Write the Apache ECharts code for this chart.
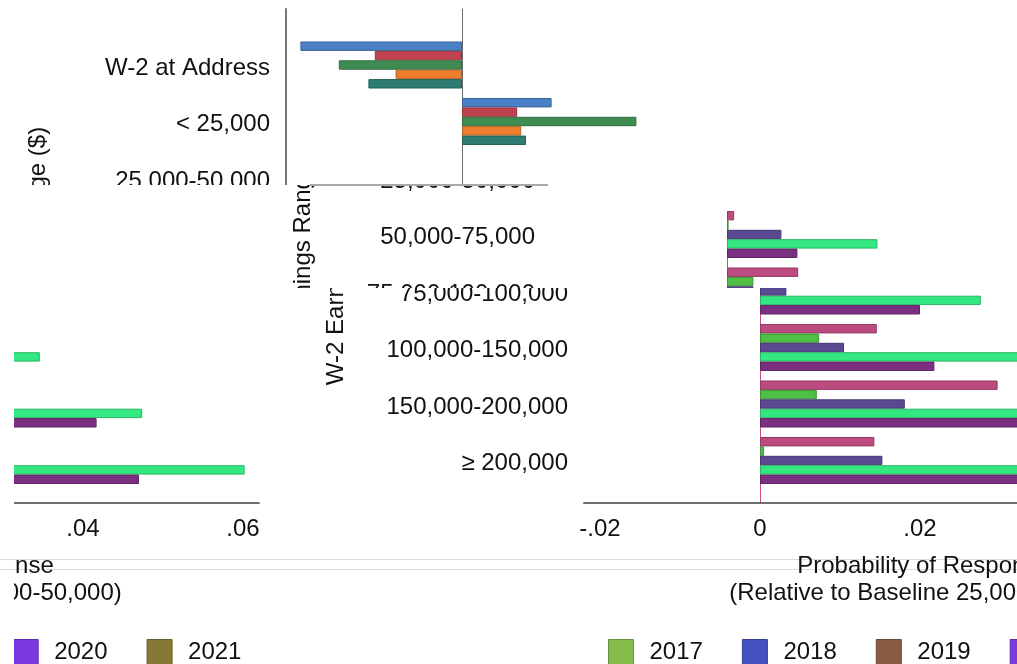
<!DOCTYPE html>
<html>
<head>
<meta charset="utf-8">
<script src="https://cdn.jsdelivr.net/npm/echarts@6/dist/echarts.min.js"></script>
<style>
  html, body { margin: 0; padding: 0; background: #fff; width: 1017px; height: 664px; overflow: hidden; position: relative; }
  .tile { position: absolute; overflow: hidden; z-index: 1; }
  .frame { position: absolute; width: 997px; height: 664px; }
  .rule { position: absolute; height: 1px; background: #dcdcdc; }
  .rule.front { z-index: 2; height: 2px; background: #a9a9a9; }
</style>
</head>
<body>
<div class="rule" style="left:0;top:559px;width:1017px"></div>
<div class="rule" style="left:0;top:569px;width:1017px"></div>
<div class="rule front" style="left:310px;top:184px;width:238px"></div>
<script>
// Earnings ranges (top to bottom) and survey years
const categories = ['W-2 at Address', '< 25,000', '25,000-50,000', '50,000-75,000',
  '75,000-100,000', '100,000-150,000', '150,000-200,000', '\u2265 200,000'];
const years = ['2017', '2018', '2019', '2020', '2021'];

// Probability of response relative to the 25,000-50,000 baseline
const v2017 = [-0.0202, 0.0112, null, 0.0009, 0.0089, 0.0146, 0.0297, 0.0143];
const v2018 = [-0.0109, 0.0069, null, 0.0002, 0.0033, 0.0074, 0.0071, 0.0005];
const v2019 = [-0.0154, 0.0218, null, 0.0068, 0.0033, 0.0105, 0.0181, 0.0153];
const v2020 = [-0.0083, 0.0074, null, 0.0188, 0.0276, 0.0346, 0.0474, 0.0602];
const v2021 = [-0.0117, 0.0080, null, 0.0088, 0.0200, 0.0218, 0.0417, 0.0470];
const seriesValues = [v2017, v2018, v2019, v2020, v2021];

// x-axis tick labels
const tickValues = [-0.02, 0, 0.02, 0.04, 0.06];
const xMin = -0.022, xMax = 0.062;

const FONT = '"Liberation Sans", Arial, Helvetica, sans-serif';
const warm = ['#4a80c4', '#c0414f', '#3f8c52', '#ee7e2c', '#2d7c72'];
const cool = ['#bc4b80', '#50bf45', '#5b4893', '#33e880', '#7b2f80'];
const legendColors = ['#84bb4b', '#4452c0', '#8b5a44', '#7b38e0', '#857a35'];

function darken(hex, f) {
  f = f || 0.78;
  const n = parseInt(hex.slice(1), 16);
  const r = Math.round(((n >> 16) & 255) * f), g = Math.round(((n >> 8) & 255) * f), b = Math.round((n & 255) * f);
  return 'rgb(' + r + ',' + g + ',' + b + ')';
}

function fmtTick(v) {
  if (Math.abs(v) < 1e-9) return '0';
  return (v < 0 ? '-' : '') + Math.abs(v).toFixed(2).replace(/^0/, '');
}

function buildOption(t) {
  const box = { left: 294, width: 672 };
  return {
    animation: false,
    textStyle: { fontFamily: FONT },
    grid: [
      Object.assign({ top: 36.75, height: 452 }, box),
      Object.assign({ top: 9, height: 494 }, box),
      Object.assign({ top: 9, height: 494 }, box)
    ],
    xAxis: [
      { gridIndex: 0, type: 'value', min: xMin, max: xMax, show: false },
      {
        gridIndex: 1, type: 'value', min: xMin, max: xMax,
        axisLine: { show: true, onZero: false, lineStyle: { color: '#707070', width: 2 } },
        axisTick: { show: false }, splitLine: { show: false },
        axisLabel: { customValues: tickValues, formatter: fmtTick, fontSize: 24, color: '#111', margin: 14, fontFamily: FONT },
        name: 'Probability of Response\n(Relative to Baseline 25,000-50,000)',
        nameLocation: 'middle', nameGap: 50,
        nameTextStyle: { fontSize: 24, color: '#111', lineHeight: 27, padding: [0, 0, 0, 8], fontFamily: FONT }
      },
      { gridIndex: 2, type: 'value', min: xMin, max: xMax, show: false }
    ],
    yAxis: [
      {
        gridIndex: 0, type: 'category', data: categories, inverse: true,
        axisLine: { show: false }, axisTick: { show: false },
        axisLabel: { fontSize: 24, color: '#111', margin: 16, verticalAlign: 'top', lineHeight: 6, fontFamily: FONT }
      },
      {
        gridIndex: 1, type: 'value', min: 0, max: 1,
        axisLine: { show: t.yLine, onZero: false, lineStyle: { color: '#777', width: 2 } },
        axisTick: { show: false }, axisLabel: { show: false }, splitLine: { show: false },
        name: 'W-2 Earnings Range ($)', nameLocation: 'middle', nameGap: 236,
        nameTextStyle: { fontSize: 24, color: '#111', fontFamily: FONT }
      },
      {
        gridIndex: 2, type: 'value', min: 0, max: 1,
        axisLine: { show: t.zeroLine, onZero: true, lineStyle: { color: t.zeroColor || '#666', width: 1 } },
        axisTick: { show: false }, axisLabel: { show: false }, splitLine: { show: false }
      }
    ],
    legend: {
      left: 313, top: 634, itemWidth: 25, itemHeight: 25, itemGap: 39, icon: 'rect',
      selectedMode: false,
      textStyle: { fontSize: 24, color: '#111', padding: [0, 0, 0, 11], fontFamily: FONT },
      data: years.map((y, i) => ({
        name: y,
        itemStyle: { color: legendColors[i], borderColor: darken(legendColors[i]), borderWidth: 1 }
      }))
    },
    series: years.map((y, i) => ({
      type: 'bar', name: y, xAxisIndex: 0, yAxisIndex: 0,
      data: seriesValues[i],
      barGap: '0%', barCategoryGap: '16.8%',
      itemStyle: { color: t.palette[i], borderColor: darken(t.palette[i]), borderWidth: 1 }
    }))
  };
}

// Horizontal strips of the figure, each showing the same plot at its own offset
const tiles = [
  { x: 0, y: 0, w: 1017, h: 185, frame: -8, palette: warm, yLine: true, zeroLine: true, zeroColor: '#6a6a6a' },
  { x: 0, y: 185, w: 1017, h: 26, frame: 257, palette: cool, yLine: false, zeroLine: false },
  { x: 0, y: 211, w: 1017, h: 77, frame: 257, palette: cool, yLine: false, zeroLine: true, zeroColor: '#c9507f' },
  { x: 290, y: 288, w: 727, h: 376, frame: 290, palette: cool, yLine: false, zeroLine: true, zeroColor: '#c9507f' },
  { x: 14, y: 288, w: 276, h: 376, frame: -707, palette: cool, yLine: false, zeroLine: true, zeroColor: '#c9507f' }
];

tiles.forEach(t => {
  const tile = document.createElement('div');
  tile.className = 'tile';
  tile.style.left = t.x + 'px';
  tile.style.top = t.y + 'px';
  tile.style.width = t.w + 'px';
  tile.style.height = t.h + 'px';
  const frame = document.createElement('div');
  frame.className = 'frame';
  frame.style.left = (t.frame - t.x) + 'px';
  frame.style.top = (-t.y) + 'px';
  tile.appendChild(frame);
  document.body.appendChild(tile);
  const chart = echarts.init(frame, null, { renderer: 'canvas', width: 997, height: 664 });
  chart.setOption(buildOption(t));
});
</script>
</body>
</html>
